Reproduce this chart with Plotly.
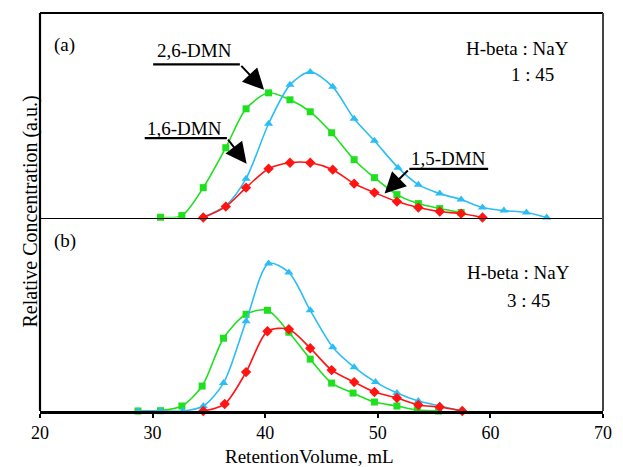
import plotly.graph_objects as go

# ---------------- data ----------------
# Panel (a): H-beta : NaY = 1 : 45
a_green_x = [30.7, 32.6, 34.5, 36.5, 38.3, 40.3, 42.2, 44.0, 45.9, 47.9, 49.7, 51.7, 53.6, 55.5, 57.4]
a_green_y = [0.003, 0.02, 0.30, 0.70, 1.09, 1.25, 1.18, 1.06, 0.85, 0.58, 0.40, 0.23, 0.14, 0.09, 0.05]
a_blue_x = [34.4, 36.5, 38.3, 40.3, 42.2, 44.0, 46.0, 47.9, 49.7, 51.8, 53.6, 55.5, 57.4, 59.3, 61.2, 63.2, 65.0]
a_blue_y = [0.0, 0.12, 0.39, 0.94, 1.33, 1.46, 1.31, 0.99, 0.77, 0.50, 0.33, 0.24, 0.18, 0.10, 0.07, 0.05, 0.0]
a_red_x = [34.5, 36.5, 38.3, 40.3, 42.2, 44.0, 46.0, 47.9, 49.7, 51.7, 53.6, 55.5, 57.4, 59.3]
a_red_y = [0.0, 0.11, 0.30, 0.49, 0.55, 0.55, 0.48, 0.34, 0.25, 0.16, 0.10, 0.06, 0.04, 0.0]

# Panel (b): H-beta : NaY = 3 : 45
b_green_x = [28.7, 30.7, 32.6, 34.4, 36.3, 38.3, 40.2, 42.1, 44.0, 45.9, 47.8, 49.7, 51.7, 53.5, 55.4]
b_green_y = [0.0, 0.003, 0.05, 0.25, 0.73, 0.97, 1.01, 0.79, 0.52, 0.28, 0.18, 0.09, 0.05, 0.01, 0.0]
b_blue_x = [28.7, 30.7, 32.7, 34.5, 36.3, 38.3, 40.3, 42.1, 44.0, 46.0, 47.9, 49.8, 51.7, 53.6, 55.5, 57.5]
b_blue_y = [0.0, 0.0, 0.0, 0.05, 0.28, 0.90, 1.48, 1.39, 1.01, 0.64, 0.44, 0.29, 0.18, 0.10, 0.05, 0.0]
b_red_x = [34.5, 36.4, 38.3, 40.2, 42.1, 44.0, 45.9, 47.9, 49.7, 51.7, 53.6, 55.5, 57.5]
b_red_y = [0.0, 0.07, 0.39, 0.80, 0.82, 0.63, 0.41, 0.29, 0.19, 0.13, 0.06, 0.04, 0.0]

x_ticks = [20, 30, 40, 50, 60, 70]
x_title = "RetentionVolume, mL"
y_title = "Relative Concentration (a.u.)"

# label annotations (text, text position, underline ends, arrow tail, arrow tip) in data units of panel (a)
labels = [
    ("2,6-DMN", 33.7, 1.67, 30.05, 37.75, 1.535, 37.75, 1.535, 39.9, 1.28),
    ("1,6-DMN", 32.8, 0.89, 29.3, 36.6, 0.797, 36.6, 0.797, 38.35, 0.54),
    ("1,5-DMN", 56.3, 0.595, 52.8, 59.8, 0.487, 52.8, 0.487, 50.6, 0.24),
]

GREEN = "#1ee01e"
BLUE = "#2cbdf5"
RED = "#ff1414"
FONT = "Liberation Serif, Times New Roman, serif"

fig = go.Figure()

def add(x, y, color, symbol, size, xa, ya):
    fig.add_trace(go.Scatter(
        x=x, y=y, mode="lines+markers", xaxis=xa, yaxis=ya,
        line=dict(color=color, width=1.6, shape="spline", smoothing=0.8),
        marker=dict(symbol=symbol, size=size, color=color),
        cliponaxis=False, showlegend=False, hoverinfo="skip"))

add(a_green_x, a_green_y, GREEN, "square", 7, "x2", "y2")
add(a_blue_x, a_blue_y, BLUE, "triangle-up", 8, "x2", "y2")
add(a_red_x, a_red_y, RED, "diamond", 8, "x2", "y2")
add(b_green_x, b_green_y, GREEN, "square", 7, "x", "y")
add(b_blue_x, b_blue_y, BLUE, "triangle-up", 8, "x", "y")
add(b_red_x, b_red_y, RED, "diamond", 8, "x", "y")

split = 0.486

annotations = []
shapes = []
for (txt, tx, ty, ux0, ux1, uy, ax, ay, hx, hy) in labels:
    annotations.append(dict(x=tx, y=ty, xref="x2", yref="y2", text=txt, showarrow=False,
                            font=dict(family=FONT, size=19, color="black")))
    shapes.append(dict(type="line", xref="x2", yref="y2", x0=ux0, x1=ux1, y0=uy, y1=uy,
                       line=dict(color="black", width=2.2)))
    annotations.append(dict(x=hx, y=hy, xref="x2", yref="y2", ax=ax, ay=ay, axref="x2", ayref="y2",
                            text="", showarrow=True, arrowhead=2, arrowsize=2.1, arrowwidth=2,
                            arrowcolor="black"))

panel_text = [
    ("(a)", 22.2, 1.73, "x2", "y2"),
    ("H-beta : NaY", 62.4, 1.69, "x2", "y2"),
    ("1 : 45", 63.75, 1.43, "x2", "y2"),
    ("(b)", 22.2, 1.71, "x", "y"),
    ("H-beta : NaY", 62.5, 1.39, "x", "y"),
    ("3 : 45", 63.4, 1.11, "x", "y"),
]
for (txt, tx, ty, xr, yr) in panel_text:
    annotations.append(dict(x=tx, y=ty, xref=xr, yref=yr, text=txt, showarrow=False,
                            font=dict(family=FONT, size=19, color="black")))

annotations.append(dict(x=0, y=0.5, xref="paper", yref="paper", xshift=-24, text=y_title,
                        textangle=-90, showarrow=False, font=dict(family=FONT, size=20, color="black")))
annotations.append(dict(x=0.5, y=0, xref="paper", yref="paper", yshift=-45, xshift=-12, text=x_title,
                        showarrow=False, yanchor="middle", font=dict(family=FONT, size=19, color="black")))

# frame
shapes += [
    dict(type="line", xref="paper", yref="paper", x0=0, x1=0, y0=0, y1=1, line=dict(color="black", width=2.2)),
    dict(type="line", xref="paper", yref="paper", x0=0, x1=1, y0=1, y1=1, line=dict(color="black", width=2.2)),
    dict(type="line", xref="paper", yref="paper", x0=1, x1=1, y0=0, y1=1, line=dict(color="#444444", width=2)),
]

fig.update_layout(
    width=623, height=467,
    margin=dict(l=40, r=11, t=13, b=56),
    plot_bgcolor="white", paper_bgcolor="white",
    font=dict(family=FONT, color="black"),
    xaxis=dict(domain=[0, 1], anchor="y", range=[20, 70], tickvals=x_ticks,
               showline=True, linecolor="black", linewidth=2.5,
               ticks="outside", ticklen=4, tickwidth=2, tickcolor="black",
               tickfont=dict(family=FONT, size=18), showgrid=False, zeroline=False),
    yaxis=dict(domain=[0, split], range=[0, 1.94], visible=False, showgrid=False, zeroline=False),
    xaxis2=dict(domain=[0, 1], anchor="y2", matches="x", showticklabels=False, ticks="",
                showline=True, linecolor="black", linewidth=1, showgrid=False, zeroline=False),
    yaxis2=dict(domain=[split, 1], range=[0, 2.05], visible=False, showgrid=False, zeroline=False),
    annotations=annotations,
    shapes=shapes,
)

fig.write_html("out.html")
